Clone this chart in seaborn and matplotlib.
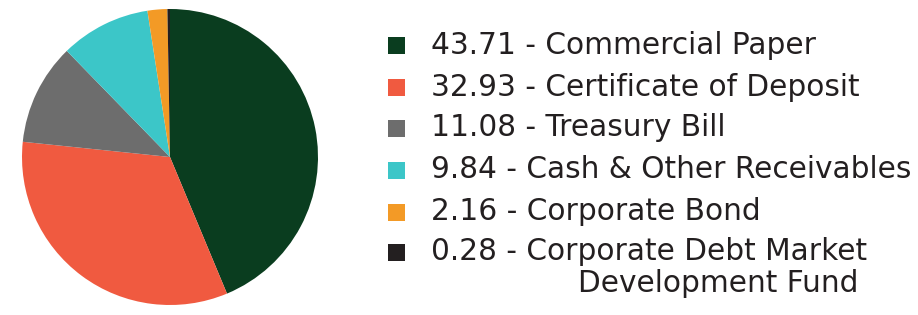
import matplotlib
matplotlib.use("Agg")
import matplotlib.pyplot as plt
import seaborn as sns
from matplotlib.patches import Rectangle

categories = ["Commercial Paper", "Certificate of Deposit", "Treasury Bill",
              "Cash & Other Receivables", "Corporate Bond",
              "Corporate Debt Market Development Fund"]
values = [43.71, 32.93, 11.08, 9.84, 2.16, 0.28]
colors = ["#0a3d1f", "#f05a40", "#6d6d6d", "#3cc6c8", "#f39a26", "#231f20"]

sns.set_theme(style="white")
plt.rcParams['font.family'] = ['DejaVu Sans']

W, H = 918, 315
fig = plt.figure(figsize=(W / 100, H / 100), dpi=100)
cx, cy, r = 170, 157, 148
ax = fig.add_axes([(cx - r) / W, (H - cy - r) / H, 2 * r / W, 2 * r / H])
ax.pie(values, colors=colors, startangle=90, counterclock=False,
       wedgeprops=dict(linewidth=0))
ax.set_xlim(-1, 1)
ax.set_ylim(-1, 1)
ax.set_aspect("equal")
ax.axis("off")

ys = [45, 87, 128, 170, 212, 252]
txt_color = "#231f20"
fs = 21.3
for i, (cat, val, col) in enumerate(zip(categories, values, colors)):
    y = ys[i]
    fig.patches.append(Rectangle(((388) / W, (H - y - 9) / H), 17 / W, 17 / H,
                                 transform=fig.transFigure, facecolor=col,
                                 edgecolor="none"))
    if i == 5:
        label = f"{val:.2f} - Corporate Debt Market"
    else:
        label = f"{val:.2f} - {cat}"
    fig.text(431 / W, (H - y) / H, label, fontsize=fs, color=txt_color,
             va="center", ha="left")
fig.text(858 / W, (H - 283) / H, "Development Fund", fontsize=fs,
         color=txt_color, va="center", ha="right")

fig.savefig("out.png", dpi=100)
